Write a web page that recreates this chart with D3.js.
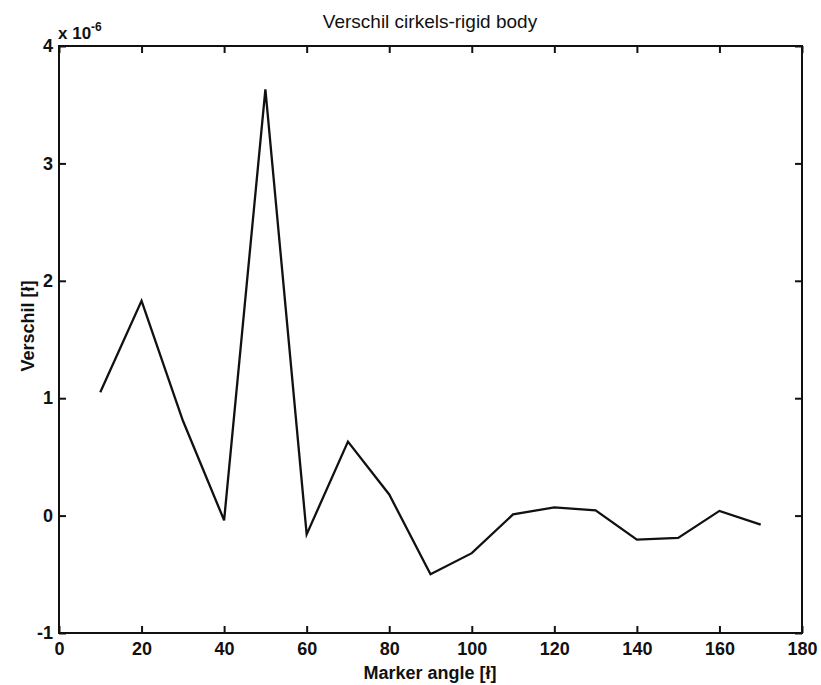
<!DOCTYPE html>
<html>
<head>
<meta charset="utf-8">
<script src="https://cdn.jsdelivr.net/npm/d3@7"></script>
<style>
  body { margin: 0; background: #fff; }
  svg text { font-family: "Liberation Sans", Arial, sans-serif; fill: #111; }
</style>
</head>
<body>
<svg id="chart" width="821" height="685"></svg>
<script>
// marker angle [deg] vs verschil (x 1e-6)
var angles = [10, 20, 30, 40, 50, 60, 70, 80, 90, 100, 110, 120, 130, 140, 150, 160, 170];
var verschil = [1.05, 1.83, 0.81, -0.04, 3.63, -0.16, 0.63, 0.18, -0.50, -0.32, 0.01, 0.07, 0.045, -0.205, -0.19, 0.04, -0.077];
var xTicks = [0, 20, 40, 60, 80, 100, 120, 140, 160, 180];
var yTicks = [-1, 0, 1, 2, 3, 4];

var plotLeft = 59, plotRight = 802, plotTop = 46, plotBottom = 633;
var svg = d3.select('#chart');

var x = d3.scaleLinear().domain([0, 180]).range([plotLeft, plotRight]);
var y = d3.scaleLinear().domain([-1, 4]).range([plotBottom, plotTop]);

// box
svg.append("rect")
    .attr("x", plotLeft).attr("y", plotTop)
    .attr("width", plotRight - plotLeft).attr("height", plotBottom - plotTop)
    .attr("fill", "none").attr("stroke", "#111").attr("stroke-width", 2);

var tickLen = 7;
var plain = function(d) { return String(d); };

// bottom axis + top ticks
var xb = svg.append("g").attr("transform", "translate(0," + plotBottom + ")")
    .call(d3.axisBottom(x).tickValues(xTicks).tickSizeInner(-tickLen).tickSizeOuter(0).tickPadding(9).tickFormat(plain));
var xt = svg.append("g").attr("transform", "translate(0," + plotTop + ")")
    .call(d3.axisTop(x).tickValues(xTicks).tickSizeInner(-tickLen).tickSizeOuter(0).tickFormat(""));
// left axis + right ticks
var yl = svg.append("g").attr("transform", "translate(" + plotLeft + ",0)")
    .call(d3.axisLeft(y).tickValues(yTicks).tickSizeInner(-tickLen).tickSizeOuter(0).tickPadding(6).tickFormat(plain));
var yr = svg.append("g").attr("transform", "translate(" + plotRight + ",0)")
    .call(d3.axisRight(y).tickValues(yTicks).tickSizeInner(-tickLen).tickSizeOuter(0).tickFormat(""));

[xb, xt, yl, yr].forEach(function(g) {
    g.select(".domain").remove();
    g.selectAll("line").attr("stroke", "#111").attr("stroke-width", 2);
    g.selectAll("text")
        .attr("font-family", "Liberation Sans, Arial, sans-serif")
        .attr("font-size", 18)
        .attr("font-weight", "bold")
        .attr("fill", "#111");
});

// exponent label
var ex = svg.append("text")
    .attr("x", 58).attr("y", 39)
    .attr("font-size", 17).attr("font-weight", "bold");
ex.append("tspan").text("x 10");
ex.append("tspan").attr("dy", -8).attr("font-size", 12).text("-6");

// data line
var line = d3.line()
    .x(function(d, i) { return x(angles[i]); })
    .y(function(d) { return y(d); });

svg.append("path")
    .datum(verschil)
    .attr("d", line)
    .attr("fill", "none")
    .attr("stroke", "#111")
    .attr("stroke-width", 2.3)
    .attr("stroke-linejoin", "miter");

// title & labels
svg.append("text")
    .attr("x", 430).attr("y", 28)
    .attr("text-anchor", "middle")
    .attr("font-size", 19)
    .text("Verschil cirkels-rigid body");

svg.append("text")
    .attr("x", 430).attr("y", 679)
    .attr("text-anchor", "middle")
    .attr("font-size", 18).attr("font-weight", "bold")
    .text("Marker angle [ł]");

svg.append("text")
    .attr("transform", "translate(34,326) rotate(-90)")
    .attr("text-anchor", "middle")
    .attr("font-size", 18).attr("font-weight", "bold")
    .text("Verschil [ł]");
</script>
</body>
</html>
